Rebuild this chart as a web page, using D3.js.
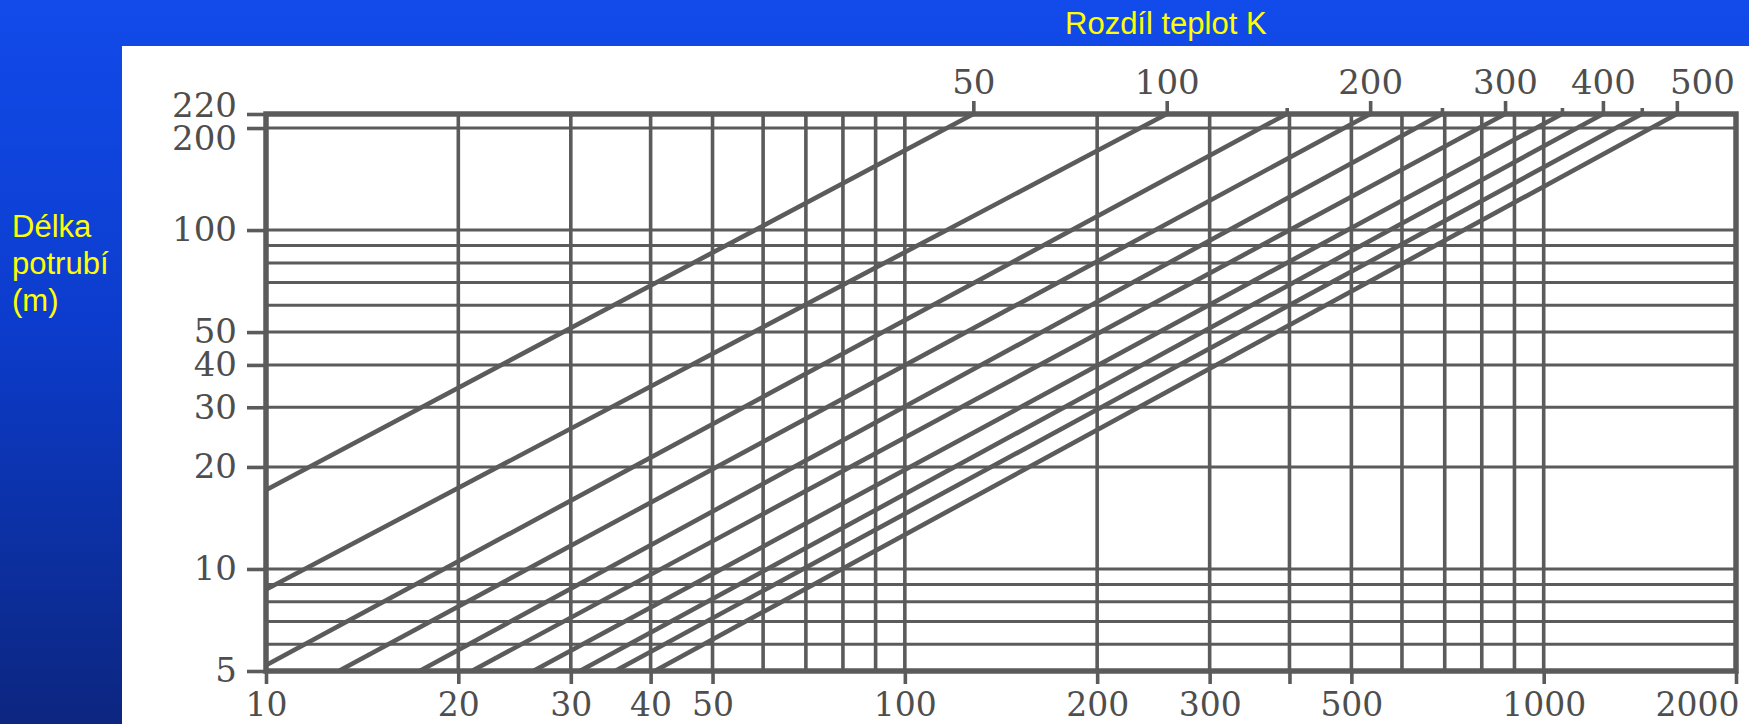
<!DOCTYPE html>
<html>
<head>
<meta charset="utf-8">
<script src="https://cdn.jsdelivr.net/npm/d3@7"></script>
<style>
  html, body { margin: 0; padding: 0; overflow: hidden; }
  body { width: 1749px; height: 724px; }
</style>
</head>
<body>
<div id="chart"></div>
<script>
// temperature difference lines (K) and where they meet the top edge (L = 220 m)
const deltaT = [50, 100, 150, 200, 250, 300, 350, 400, 450, 500];
const endX = [128, 257, 396, 535, 693, 870, 1068, 1238, 1424, 1616];
// where each line enters the grid (left edge or bottom edge)
const startX = [10, 10, 10, 13, 17.4, 21, 26.2, 31, 35.2, 40.6];
const startL = [17.1, 8.7, 5.2, 5, 5, 5, 5, 5, 5, 5];
const endL = 220;

// axis ticks and grid
const xTicks = [10, 20, 30, 40, 50, 100, 200, 300, 400, 500, 1000, 2000];
const xTickLabels = ["10", "20", "30", "40", "50", "100", "200", "300", "", "500", "1000", "2000"];
const yTicks = [5, 10, 20, 30, 40, 50, 100, 200, 220];
const xGrid = [20, 30, 40, 50, 60, 70, 80, 90, 100, 200, 300, 400, 500, 600, 700, 800, 900, 1000];
const yGrid = [6, 7, 8, 9, 10, 20, 30, 40, 50, 60, 70, 80, 90, 100, 200];
const topLabelled = [50, 100, 200, 300, 400, 500];

const W = 1749, H = 724;
const ink = "#5b5b5b";

const svg = d3.select("#chart").append("svg")
  .attr("width", W)
  .attr("height", H);

// blue slide background
const grad = svg.append("defs").append("linearGradient")
  .attr("id", "bg").attr("x1", 0).attr("y1", 0).attr("x2", 0).attr("y2", 1);
grad.append("stop").attr("offset", "0%").attr("stop-color", "#124beb");
grad.append("stop").attr("offset", "45%").attr("stop-color", "#0c3ccc");
grad.append("stop").attr("offset", "100%").attr("stop-color", "#0c2680");
svg.append("rect").attr("width", W).attr("height", H).attr("fill", "url(#bg)");

// white picture area
svg.append("rect")
  .attr("x", 122).attr("y", 46)
  .attr("width", W - 122).attr("height", H - 46)
  .attr("fill", "#ffffff");

const x = d3.scaleLog().domain([10, 2000]).range([266, 1736]);
const y = d3.scaleLog().domain([5, 220]).range([671, 114]);

// grid
const grid = svg.append("g");
grid.selectAll(".vg").data(xGrid).enter().append("line")
  .attr("x1", d => x(d)).attr("x2", d => x(d))
  .attr("y1", y(220)).attr("y2", y(5))
  .attr("stroke", ink).attr("stroke-width", 3.6);
grid.selectAll(".hg").data(yGrid).enter().append("line")
  .attr("x1", x(10)).attr("x2", x(2000))
  .attr("y1", d => y(d)).attr("y2", d => y(d))
  .attr("stroke", ink).attr("stroke-width", 3);

// diagonal lines, one per temperature difference
const lines = deltaT.map((t, i) => ({
  t,
  pts: [[startX[i], startL[i]], [endX[i], endL]]
}));
const lineGen = d3.line().x(d => x(d[0])).y(d => y(d[1]));
svg.append("g").selectAll("path").data(lines).enter().append("path")
  .attr("d", d => lineGen(d.pts))
  .attr("fill", "none")
  .attr("stroke", ink)
  .attr("stroke-width", 4.6);

// frame
svg.append("rect")
  .attr("x", x(10)).attr("y", y(220))
  .attr("width", x(2000) - x(10)).attr("height", y(5) - y(220))
  .attr("fill", "none").attr("stroke", ink).attr("stroke-width", 5.5);

const numFont = "'DejaVu Serif', serif";

function styleAxis(g, size) {
  g.select(".domain").remove();
  g.selectAll(".tick line").attr("stroke", ink).attr("stroke-width", 3.6);
  g.selectAll(".tick text")
    .attr("fill", "#4e4e4e")
    .style("font-family", numFont)
    .style("font-size", size + "px");
}

// bottom axis
const xAxis = d3.axisBottom(x)
  .tickValues(xTicks)
  .tickSize(13)
  .tickPadding(9)
  .tickFormat((d, i) => xTickLabels[i]);
const gx = svg.append("g").attr("transform", `translate(0,${y(5)})`).call(xAxis);
styleAxis(gx, 33);
gx.selectAll(".tick text")
  .filter(d => d === 2000)
  .attr("text-anchor", "end")
  .attr("x", 3);

// left axis
const yAxis = d3.axisLeft(y)
  .tickValues(yTicks)
  .tickSize(19)
  .tickPadding(10)
  .tickFormat(d3.format("d"));
const gy = svg.append("g").attr("transform", `translate(${x(10)},0)`).call(yAxis);
styleAxis(gy, 34);
gy.selectAll(".tick text")
  .filter(d => d === 220).attr("dy", "0.08em");
gy.selectAll(".tick text")
  .filter(d => d === 200).attr("dy", "0.64em");

// top axis: temperature differences at the line ends
const xTop = d3.axisTop(x)
  .tickValues(endX)
  .tickSize(13)
  .tickPadding(6)
  .tickFormat((d, i) => topLabelled.includes(deltaT[i]) ? String(deltaT[i]) : "");
const gt = svg.append("g").attr("transform", `translate(0,${y(220)})`).call(xTop);
styleAxis(gt, 34);
gt.selectAll(".tick line")
  .attr("y2", (d, i) => topLabelled.includes(deltaT[i]) ? -13 : -6);
gt.selectAll(".tick text")
  .attr("y", -20)
  .attr("x", (d, i) => deltaT[i] === 500 ? 25 : 0);

// titles
const titleFont = "'Liberation Sans', Arial, sans-serif";
svg.append("text")
  .attr("x", 1065).attr("y", 34)
  .attr("fill", "#ffff00")
  .style("font-family", titleFont)
  .style("font-size", "31px")
  .text("Rozdíl teplot K");

const yTitle = svg.append("text")
  .attr("x", 12).attr("y", 237)
  .attr("fill", "#ffff00")
  .style("font-family", titleFont)
  .style("font-size", "31px");
["Délka", "potrubí", "(m)"].forEach((s, i) => {
  yTitle.append("tspan").attr("x", 12).attr("dy", i === 0 ? 0 : 37).text(s);
});
</script>
</body>
</html>
